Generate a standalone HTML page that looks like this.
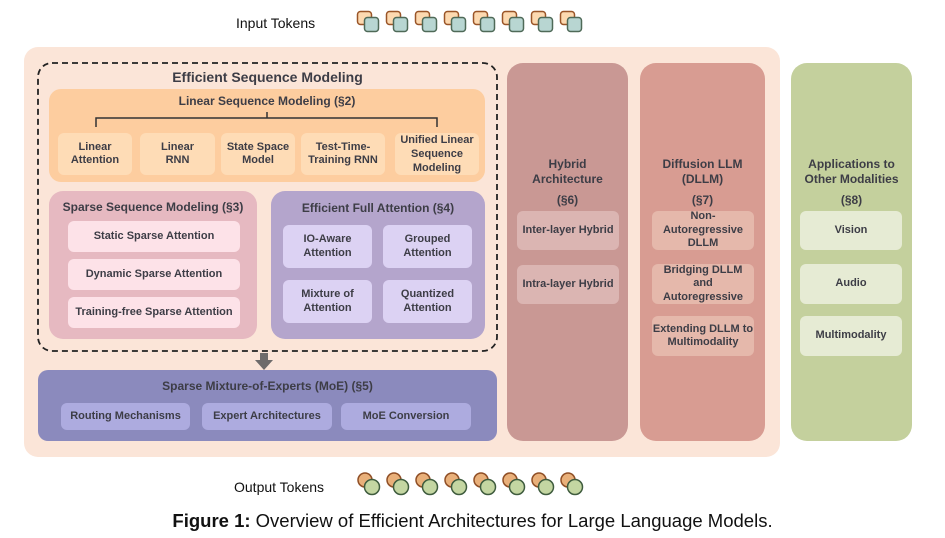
<!DOCTYPE html>
<html><head><meta charset="utf-8"><style>
*{margin:0;padding:0;box-sizing:border-box}
body{width:945px;height:538px;background:#fff;position:relative;overflow:hidden;font-family:"Liberation Sans",sans-serif;color:#3d3d46}
.a{position:absolute}
.b{position:absolute;display:flex;align-items:center;justify-content:center;text-align:center;font-weight:bold;font-size:11px;line-height:13.5px;color:#3d3d46;border-radius:6px}
.t{position:absolute;text-align:center;font-weight:bold;color:#3d3d46}
</style></head><body>
<div class="a" style="left:236px;top:15px;font-size:14px;color:#111">Input Tokens</div>
<div class="a" style="left:234px;top:479px;font-size:14px;color:#111">Output Tokens</div>
<svg class="a" style="left:0;top:0" width="945" height="538">
<g id="sq">
<rect x="357.5" y="11.5" width="14" height="13" rx="3" fill="#fdd9b0" stroke="#9a5528" stroke-width="1.5"/>
<rect x="364.5" y="17.5" width="14" height="14" rx="3" fill="#b8d6d2" stroke="#4f6a58" stroke-width="1.5"/>
</g>
<use href="#sq" x="29"/><use href="#sq" x="58"/><use href="#sq" x="87"/><use href="#sq" x="116"/><use href="#sq" x="145"/><use href="#sq" x="174"/><use href="#sq" x="203"/>
<g id="ci">
<circle cx="365" cy="480" r="7" fill="#e9b07a" stroke="#8f4e25" stroke-width="1.5"/>
<circle cx="372" cy="487" r="7.5" fill="#c4d6a2" stroke="#3f5c3e" stroke-width="1.5"/>
</g>
<use href="#ci" x="29"/><use href="#ci" x="58"/><use href="#ci" x="87"/><use href="#ci" x="116"/><use href="#ci" x="145"/><use href="#ci" x="174"/><use href="#ci" x="203"/>
</svg>
<div class="a" style="left:24px;top:47px;width:756px;height:410px;background:#fbe5d8;border-radius:14px"></div>
<svg class="a" style="left:37px;top:62px" width="462" height="291"><rect x="1" y="1" width="459" height="288" rx="14" fill="none" stroke="#222" stroke-width="1.8" stroke-dasharray="6 4"/></svg>
<div class="t" style="left:38px;top:69px;width:459px;font-size:14px">Efficient Sequence Modeling</div>
<div class="a" style="left:49px;top:89px;width:436px;height:93px;background:#fdcd9f;border-radius:12px"></div>
<div class="t" style="left:49px;top:94px;width:436px;font-size:12px">Linear Sequence Modeling (§2)</div>
<svg class="a" style="left:0;top:0" width="500" height="140"><path d="M96 127V118H437V127M267 118V112" fill="none" stroke="#333" stroke-width="1.5"/></svg>
<div class="b" style="left:58px;top:133px;width:74px;height:42px;background:#fedcb6">Linear<br>Attention</div>
<div class="b" style="left:140px;top:133px;width:75px;height:42px;background:#fedcb6">Linear<br>RNN</div>
<div class="b" style="left:221px;top:133px;width:74px;height:42px;background:#fedcb6">State Space<br>Model</div>
<div class="b" style="left:301px;top:133px;width:84px;height:42px;background:#fedcb6">Test-Time-<br>Training RNN</div>
<div class="b" style="left:395px;top:133px;width:84px;height:42px;background:#fedcb6;align-items:flex-start;padding-top:0px;line-height:14px">Unified Linear<br>Sequence<br>Modeling</div>
<div class="a" style="left:49px;top:191px;width:208px;height:148px;background:#e6b9c1;border-radius:14px"></div>
<div class="t" style="left:49px;top:200px;width:208px;font-size:12px">Sparse Sequence Modeling (§3)</div>
<div class="b" style="left:68px;top:221px;width:172px;height:31px;background:#fde2e8">Static Sparse Attention</div>
<div class="b" style="left:68px;top:259px;width:172px;height:31px;background:#fde2e8">Dynamic Sparse Attention</div>
<div class="b" style="left:68px;top:297px;width:172px;height:31px;background:#fde2e8">Training-free Sparse Attention</div>
<div class="a" style="left:271px;top:191px;width:214px;height:148px;background:#b4a5cc;border-radius:14px"></div>
<div class="t" style="left:271px;top:201px;width:214px;font-size:12px">Efficient Full Attention (§4)</div>
<div class="b" style="left:283px;top:225px;width:89px;height:43px;background:#dcd2f3">IO-Aware<br>Attention</div>
<div class="b" style="left:383px;top:225px;width:89px;height:43px;background:#dcd2f3">Grouped<br>Attention</div>
<div class="b" style="left:283px;top:280px;width:89px;height:43px;background:#dcd2f3">Mixture of<br>Attention</div>
<div class="b" style="left:383px;top:280px;width:89px;height:43px;background:#dcd2f3">Quantized<br>Attention</div>
<svg class="a" style="left:254px;top:352px" width="20" height="20"><path d="M6 1H14V8H19L10 18L1 8H6Z" fill="#6e6b6b"/></svg>
<div class="a" style="left:38px;top:370px;width:459px;height:71px;background:#8b8abd;border-radius:10px"></div>
<div class="t" style="left:38px;top:379px;width:459px;font-size:12px">Sparse Mixture-of-Experts (MoE) (§5)</div>
<div class="b" style="left:61px;top:403px;width:129px;height:27px;background:#adabdf">Routing Mechanisms</div>
<div class="b" style="left:202px;top:403px;width:130px;height:27px;background:#adabdf">Expert Architectures</div>
<div class="b" style="left:341px;top:403px;width:130px;height:27px;background:#adabdf">MoE Conversion</div>
<div class="a" style="left:507px;top:63px;width:121px;height:378px;background:#c99894;border-radius:16px"></div>
<div class="t" style="left:507px;top:157px;width:121px;font-size:12px;line-height:15px">Hybrid<br>Architecture<br><span style="display:block;margin-top:6px">(§6)</span></div>
<div class="b" style="left:517px;top:211px;width:102px;height:39px;background:#dbb5b2">Inter-layer Hybrid</div>
<div class="b" style="left:517px;top:265px;width:102px;height:39px;background:#dbb5b2">Intra-layer Hybrid</div>
<div class="a" style="left:640px;top:63px;width:125px;height:378px;background:#d89c92;border-radius:16px"></div>
<div class="t" style="left:640px;top:157px;width:125px;font-size:12px;line-height:15px">Diffusion LLM<br>(DLLM)<br><span style="display:block;margin-top:6px">(§7)</span></div>
<div class="b" style="left:652px;top:211px;width:102px;height:39px;background:#e5b8ab;line-height:13.5px">Non-<br>Autoregressive<br>DLLM</div>
<div class="b" style="left:652px;top:264px;width:102px;height:40px;background:#e5b8ab;line-height:13.5px">Bridging DLLM<br>and<br>Autoregressive</div>
<div class="b" style="left:652px;top:316px;width:102px;height:40px;background:#e5b8ab">Extending DLLM to<br>Multimodality</div>
<div class="a" style="left:791px;top:63px;width:121px;height:378px;background:#c4d09d;border-radius:16px"></div>
<div class="t" style="left:791px;top:157px;width:121px;font-size:12px;line-height:15px">Applications to<br>Other Modalities<br><span style="display:block;margin-top:6px">(§8)</span></div>
<div class="b" style="left:800px;top:211px;width:102px;height:39px;background:#e6ebd4">Vision</div>
<div class="b" style="left:800px;top:264px;width:102px;height:40px;background:#e6ebd4">Audio</div>
<div class="b" style="left:800px;top:316px;width:102px;height:40px;background:#e6ebd4">Multimodality</div>
<div class="a" style="left:0;top:510px;width:945px;text-align:center;font-size:18.5px;color:#111"><b>Figure 1:</b> Overview of Efficient Architectures for Large Language Models.</div>
</body></html>
